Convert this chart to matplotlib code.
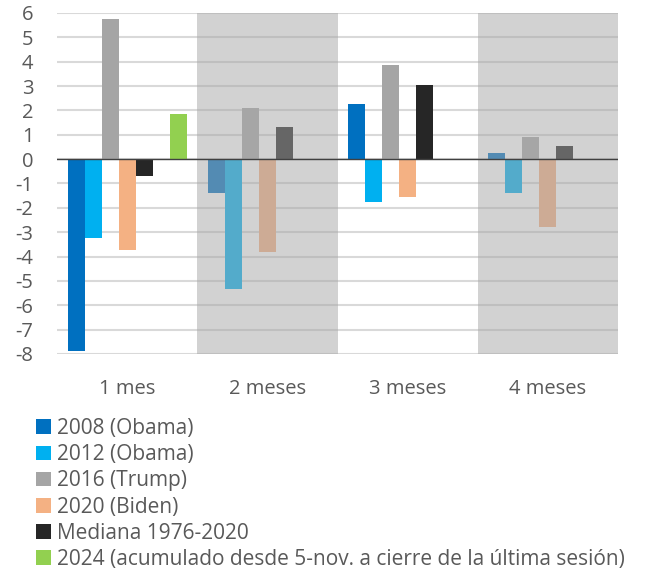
import numpy as np
import matplotlib
matplotlib.use("Agg")
import matplotlib.pyplot as plt
from matplotlib.patches import Patch

plt.rcParams['font.family'] = ['Open Sans', 'DejaVu Sans']
plt.rcParams['axes.unicode_minus'] = False

# periods after election day and the cumulative S&P moves (%)
periods = ["1 mes", "2 meses", "3 meses", "4 meses"]
labels = ["2008 (Obama)", "2012 (Obama)", "2016 (Trump)", "2020 (Biden)",
          "Mediana 1976-2020",
          "2024 (acumulado desde 5-nov. a cierre de la última sesión)"]
obama_08 = [-7.86, -1.39, 2.27, 0.26]
obama_12 = [-3.22, -5.32, -1.74, -1.39]
trump_16 = [5.76, 2.12, 3.85, 0.89]
biden_20 = [-3.74, -3.83, -1.56, -2.79]
mediana = [-0.68, 1.32, 3.06, 0.55]
actual_24 = [1.86, np.nan, np.nan, np.nan]

series = [obama_08, obama_12, trump_16, biden_20, mediana, actual_24]
colors = ["#0070c0", "#00b0f0", "#a5a5a5", "#f4b183", "#262626", "#92d050"]
# slot of each series inside a group (slot 5 stays empty)
slots = [0, 1, 2, 3, 4, 6]
nslots = 7

fig = plt.figure(figsize=(6.48, 5.72), dpi=100)
ax = fig.add_axes([57 / 648, 1 - 354 / 572, 561 / 648, 341 / 572])

x = np.arange(len(periods))
w = 1 / (nslots + 1.25)
for vals, col, s in zip(series, colors, slots):
    pos = x + (s - (nslots - 1) / 2) * w
    ax.bar(pos, vals, width=w, color=col, zorder=2)

ax.set_xlim(-0.5, len(periods) - 0.5)
ax.set_ylim(-8, 6)
ax.set_yticks(range(-8, 7))
ax.set_xticks(x)
ax.set_xticklabels(periods)
ax.yaxis.grid(True, color="#d9d9d9", linewidth=1.5, zorder=1)
ax.set_axisbelow(True)

# grey bands over the 2nd and 4th months
for i in (1, 3):
    ax.axvspan(i - 0.5, i + 0.5, color="#a7a7a7", alpha=0.5, lw=0, zorder=3)

ax.axhline(0, color="#404040", linewidth=1.0, zorder=4)

for sp in ax.spines.values():
    sp.set_visible(False)
ax.tick_params(axis="both", length=0, labelsize=14.5, colors="#595959")
ax.tick_params(axis="x", pad=18)
ax.tick_params(axis="y", pad=17)

handles = [Patch(facecolor=c, edgecolor="none") for c in colors]
leg = fig.legend(handles, labels, loc="upper left", bbox_to_anchor=(36 / 648, 1 - 418 / 572),
                 frameon=False, fontsize=15, handlelength=0.7, handleheight=0.7,
                 handletextpad=0.3, labelspacing=0.25, borderpad=0, borderaxespad=0)
for t in leg.get_texts():
    t.set_color("#595959")

fig.savefig("out.png", dpi=100)
